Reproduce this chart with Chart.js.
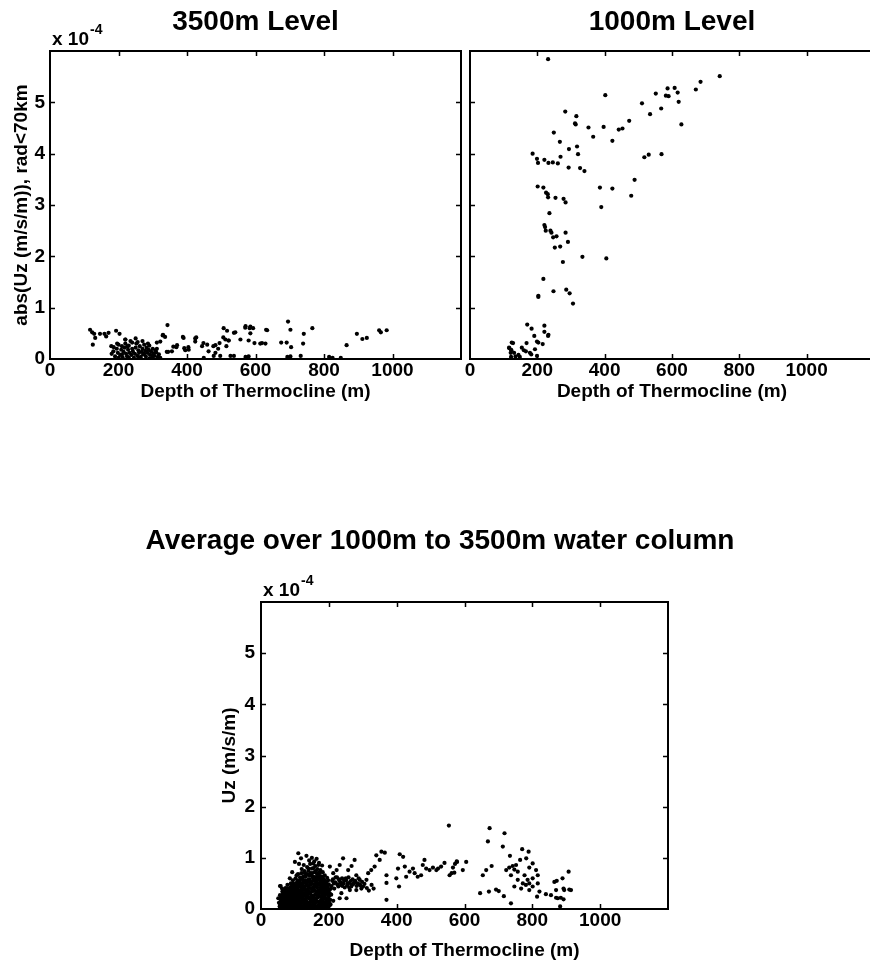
<!DOCTYPE html>
<html>
<head>
<meta charset="utf-8">
<script src="https://cdn.jsdelivr.net/npm/chart.js@4/dist/chart.umd.min.js"></script>
<style>
html,body{margin:0;padding:0;background:#fff;width:870px;height:963px;overflow:hidden;position:relative;}
.box{position:absolute;}
canvas{display:block;}
</style>
</head>
<body>
<div class="box" style="left:0px;top:0px;"><canvas id="cA" width="511" height="403" style="width:511px;height:403px"></canvas></div>
<div class="box" style="left:455px;top:0px;"><canvas id="cB" width="421" height="403" style="width:421px;height:403px"></canvas></div>
<div class="box" style="left:0px;top:520px;"><canvas id="cC" width="870" height="442" style="width:870px;height:442px"></canvas></div>
<script>
// ---------- text ----------
const titleA = '3500m Level';
const titleB = '1000m Level';
const titleC = 'Average over 1000m to 3500m water column';
const xAxisTitle = 'Depth of Thermocline (m)';
const yTitleA = 'abs(Uz (m/s/m)), rad<70km';
const yTitleC = 'Uz (m/s/m)';
const expBase = 'x 10';
const expPower = '-4';

// ---------- axes ----------
const xTickValues = [0, 200, 400, 600, 800, 1000, 1200];
const yTickValues = [0, 1, 2, 3, 4, 5, 6];   // units of 1e-4

// ---------- data: [depth (m), Uz (x1e-4 m/s/m)] ----------
const pts3500 = [
 [117,0.57],[123,0.52],[129,0.49],[125,0.28],[132,0.41],[146,0.49],[159,0.49],[171,0.51],[164,0.44],[193,0.55],
 [203,0.49],[179,0.25],[186,0.23],[220,0.38],[330,0.47],[343,0.66],[388,0.43],[427,0.42],[507,0.60],[517,0.55],
 [537,0.51],[571,0.64],[583,0.60],[593,0.60],[631,0.57],[695,0.73],[702,0.57],[741,0.49],[766,0.60],[896,0.49],
 [912,0.39],[925,0.41],[961,0.56],[983,0.56],[966,0.52],[866,0.27],[739,0.30],[691,0.32],[675,0.32],[704,0.23],
 [619,0.31],[597,0.31],[580,0.36],[556,0.38],[522,0.36],[495,0.31],[483,0.27],[463,0.15],[444,0.25],[515,0.25],
 [395,0.17],[405,0.18],[369,0.23],[356,0.15],[341,0.14],[322,0.34],[312,0.32],[449,0.02],[478,0.06],[497,0.06],
 [527,0.06],[537,0.06],[571,0.04],[580,0.05],[693,0.04],[702,0.05],[732,0.06],[815,0.04],[825,0.02],[849,0.02],
 [329,0.46],[336,0.43],[390,0.41],[424,0.40],[424,0.34],[392,0.21],[404,0.23],[360,0.24],[371,0.27],[345,0.14],
 [448,0.31],[459,0.28],[477,0.25],[483,0.12],[506,0.42],[512,0.38],[491,0.20],[521,0.36],[541,0.52],[570,0.61],
 [585,0.50],[634,0.56],[614,0.30],[629,0.30],[585,0.63],
 [180,0.10],[185,0.15],[190,0.05],[195,0.20],[198,0.12],[200,0.28],[205,0.08],[208,0.18],[210,0.25],[212,0.03],
 [215,0.14],[218,0.22],[220,0.30],[222,0.10],[225,0.05],[228,0.18],[230,0.26],[232,0.12],[235,0.35],[238,0.08],
 [240,0.20],[242,0.15],[245,0.02],[248,0.10],[250,0.22],[252,0.30],[255,0.06],[258,0.17],[260,0.12],[262,0.25],
 [265,0.04],[268,0.14],[270,0.20],[272,0.09],[275,0.28],[278,0.16],[280,0.05],[282,0.22],[285,0.12],[288,0.18],
 [290,0.26],[292,0.08],[295,0.15],[298,0.03],[300,0.20],[302,0.11],[305,0.06],[308,0.17],[310,0.13],[315,0.04],
 [318,0.09],[322,0.02],[200,0.02],[210,0.09],[230,0.03],[260,0.02],[275,0.10],[290,0.01],[240,0.32],[220,0.38],
 [250,0.40],[270,0.35],[196,0.30],[226,0.24],[256,0.33],[286,0.30],[300,0.07],[312,0.20]
];

const pts1000 = [
 [232,5.84],[742,5.51],[685,5.40],[671,5.25],[608,5.28],[587,5.27],[617,5.19],[552,5.17],[582,5.13],[590,5.12],
 [402,5.14],[620,5.01],[511,4.98],[568,4.88],[283,4.82],[535,4.77],[316,4.73],[473,4.64],[312,4.59],[314,4.57],
 [628,4.57],[352,4.51],[397,4.52],[442,4.47],[453,4.49],[249,4.41],[366,4.33],[423,4.25],[267,4.23],[318,4.14],
 [294,4.09],[186,4.00],[321,3.99],[569,3.99],[531,3.98],[518,3.93],[269,3.94],[199,3.90],[202,3.82],[221,3.88],
 [233,3.82],[246,3.83],[261,3.81],[293,3.73],[327,3.72],[340,3.66],[489,3.49],[386,3.34],[423,3.32],[479,3.18],
 [201,3.36],[218,3.34],[226,3.24],[231,3.21],[232,3.15],[254,3.14],[278,3.12],[284,3.05],[390,2.96],[236,2.84],
 [221,2.61],[223,2.57],[225,2.50],[239,2.50],[242,2.46],[284,2.46],[247,2.37],[257,2.39],[291,2.28],[268,2.19],
 [252,2.17],[334,1.99],[405,1.96],[276,1.89],[218,1.56],[203,1.23],[203,1.21],[248,1.32],[286,1.35],[296,1.28],
 [306,1.08],[170,0.67],[183,0.59],[221,0.65],[221,0.53],[233,0.47],[232,0.45],[191,0.45],[168,0.31],[199,0.34],
 [203,0.32],[216,0.29],[124,0.32],[116,0.22],[122,0.18],[121,0.12],[122,0.04],[154,0.22],[160,0.17],[166,0.15],
 [178,0.12],[193,0.19],[182,0.09],[144,0.08],[148,0.04],[199,0.06],[135,0.05],[131,0.12],[128,0.31],[117,0.21],
 [123,0.17]
];

const ptsAvg = [
 [554,1.63],[674,1.58],[718,1.48],[669,1.32],[713,1.22],[770,1.17],[789,1.12],[734,1.04],[680,0.84],[664,0.76],
 [654,0.66],[646,0.31],[672,0.34],[693,0.38],[701,0.35],[716,0.25],[737,0.11],[723,0.76],[732,0.81],[742,0.84],
 [752,0.86],[747,0.77],[757,0.73],[764,0.96],[782,0.99],[801,0.89],[791,0.81],[811,0.76],[816,0.66],[801,0.60],
 [786,0.57],[772,0.50],[757,0.57],[747,0.44],[767,0.40],[781,0.47],[791,0.37],[801,0.44],[816,0.50],[821,0.34],
 [814,0.24],[840,0.29],[855,0.27],[870,0.37],[875,0.21],[884,0.22],[894,0.37],[889,0.60],[907,0.73],[909,0.38],
 [865,0.53],[882,0.05],[791,0.50],[777,0.66],[737,0.66],[872,0.55],[892,0.40],[914,0.37],[870,0.22],[892,0.19],
 [605,0.92],[595,0.76],[578,0.92],[566,0.81],[570,0.71],[556,0.66],[541,0.90],[531,0.83],[522,0.79],[517,0.76],
 [507,0.81],[497,0.76],[487,0.79],[477,0.86],[482,0.96],[472,0.66],[462,0.63],[453,0.70],[448,0.79],[438,0.73],
 [428,0.63],[424,0.83],[419,1.02],[409,1.07],[404,0.79],[399,0.60],[407,0.44],[370,0.66],[370,0.51],[370,0.18],
 [355,1.12],[365,1.10],[340,1.05],[350,0.96],[335,0.83],[325,0.76],[316,0.70],[311,0.57],[301,0.44],[291,0.57],
 [281,0.66],[276,0.96],[267,0.84],[257,0.76],[242,0.99],[232,0.86],[223,0.76],[213,0.70],[203,0.83],[232,0.21],
 [252,0.21],[262,0.37],[281,0.37],[237,0.31],[213,0.16],[203,0.08],[572,0.88],[577,0.93],[562,0.70],
 // dense cluster near the origin
 [55,0.05],[58,0.18],[62,0.10],[64,0.28],[66,0.03],[69,0.15],[71,0.22],[73,0.08],[75,0.33],[77,0.12],
 [79,0.02],[80,0.26],[82,0.18],[84,0.06],[85,0.38],[87,0.14],[89,0.30],[90,0.02],[92,0.21],[93,0.09],
 [95,0.35],[96,0.16],[98,0.27],[99,0.04],[101,0.42],[102,0.12],[104,0.23],[105,0.31],[107,0.07],[108,0.19],
 [110,0.36],[111,0.02],[113,0.28],[114,0.14],[116,0.45],[117,0.09],[119,0.24],[120,0.33],[122,0.05],[123,0.17],
 [125,0.40],[126,0.26],[128,0.11],[129,0.52],[131,0.03],[132,0.20],[134,0.36],[135,0.47],[137,0.13],[138,0.29],
 [140,0.07],[141,0.58],[143,0.22],[144,0.41],[146,0.16],[147,0.33],[149,0.02],[150,0.50],[152,0.25],[153,0.10],
 [155,0.63],[156,0.38],[158,0.18],[159,0.45],[161,0.05],[162,0.29],[164,0.70],[165,0.55],[167,0.14],[168,0.36],
 [170,0.48],[171,0.08],[173,0.24],[174,0.60],[176,0.42],[177,0.17],[179,0.31],[180,0.53],[182,0.04],[183,0.21],
 [185,0.38],[186,0.47],[188,0.12],[189,0.28],[191,0.40],[192,0.06],[194,0.19],[195,0.33],[197,0.44],[198,0.10],
 [200,0.25],[202,0.37],
 [57,0.09],[61,0.24],[63,0.02],[67,0.19],[70,0.06],[72,0.31],[74,0.17],[76,0.04],[78,0.23],[81,0.10],
 [83,0.34],[86,0.21],[88,0.05],[91,0.13],[94,0.25],[97,0.08],[100,0.19],[103,0.34],[106,0.02],[109,0.27],
 [112,0.11],[115,0.21],[118,0.38],[121,0.15],[124,0.03],[127,0.31],[130,0.18],[133,0.08],[136,0.25],[139,0.40],
 [142,0.11],[145,0.30],[148,0.20],[151,0.38],[154,0.05],[157,0.27],[160,0.12],[163,0.43],[166,0.22],[169,0.03],
 [172,0.32],[175,0.11],[178,0.45],[181,0.26],[184,0.14],[187,0.03],[190,0.22],[193,0.30],[196,0.15],[199,0.05],
 [204,0.18],[207,0.28],
 [59,0.13],[65,0.21],[68,0.11],[70,0.36],[73,0.26],[76,0.19],[79,0.40],[82,0.04],[84,0.27],[87,0.43],
 [89,0.11],[92,0.37],[95,0.02],[97,0.22],[100,0.29],[103,0.06],[106,0.44],[108,0.09],[111,0.31],[114,0.24],
 [117,0.50],[119,0.03],[122,0.29],[125,0.12],[127,0.45],[130,0.37],[133,0.26],[136,0.02],[138,0.55],[141,0.34],
 [143,0.04],[146,0.48],[149,0.26],[152,0.14],[155,0.43],[157,0.09],[160,0.35],[162,0.60],[165,0.03],[168,0.25],
 [170,0.66],[173,0.15],[176,0.52],[179,0.07],[182,0.36],[185,0.24],[188,0.55],[191,0.12],[194,0.42],[197,0.29],
 [200,0.48],[205,0.09],
 [53,0.12],[56,0.27],[60,0.06],[63,0.34],[66,0.14],[68,0.25],[71,0.03],[72,0.41],[74,0.11],[77,0.29],
 [78,0.47],[80,0.08],[81,0.37],[83,0.17],[85,0.02],[86,0.30],[88,0.50],[90,0.24],[91,0.40],[93,0.16],
 [94,0.33],[96,0.45],[97,0.03],[99,0.38],[100,0.10],[102,0.26],[104,0.47],[105,0.15],[107,0.39],[108,0.55],
 [110,0.20],[111,0.43],[112,0.06],[114,0.35],[115,0.52],[117,0.29],[118,0.13],[120,0.44],[121,0.60],[123,0.37],
 [124,0.21],[126,0.53],[127,0.07],[129,0.40],[130,0.28],[132,0.63],[133,0.16],[135,0.33],[136,0.51],[138,0.09],
 [139,0.45],[141,0.21],[142,0.66],[144,0.30],[145,0.54],[147,0.06],[148,0.41],[150,0.15],[151,0.70],[153,0.35],
 [154,0.56],[156,0.23],[157,0.47],[159,0.02],[160,0.62],[162,0.18],[163,0.52],[165,0.33],[166,0.42],[168,0.07],
 [169,0.50],[171,0.27],[172,0.62],[174,0.05],[175,0.37],[177,0.56],[178,0.23],[180,0.40],[181,0.12],[183,0.50],
 [184,0.30],[186,0.09],[187,0.42],[189,0.20],[190,0.35],[192,0.46],[193,0.16],[195,0.03],[196,0.40],[198,0.32],
 [199,0.20],[201,0.12],[203,0.30],[206,0.40],
 [90,0.48],[94,0.56],[98,0.44],[102,0.60],[106,0.52],[109,0.68],[113,0.47],[116,0.58],[119,0.70],[122,0.50],
 [125,0.64],[128,0.74],[131,0.56],[134,0.46],[137,0.68],[140,0.79],[143,0.58],[146,0.70],[149,0.50],[152,0.62],
 [155,0.80],[158,0.55],[161,0.74],[164,0.48],[167,0.66],[170,0.58],[173,0.72],[176,0.62],[179,0.50],[182,0.62],
 [185,0.48],[188,0.42],[191,0.52],[194,0.38],
 [100,0.92],[110,1.09],[112,0.88],[118,0.99],[120,0.78],[126,0.86],[130,0.70],[134,1.04],[136,0.82],[140,0.75],
 [145,0.88],[148,0.66],[150,0.79],[154,0.89],[158,0.72],[160,0.84],[163,0.62],[166,0.78],[169,0.86],[172,0.70],
 [175,0.76],[178,0.64],[182,0.72],[185,0.58],[188,0.66],[192,0.52],[195,0.61],[198,0.56],[85,0.60],[92,0.72],
 [105,0.66],[115,0.62],[124,0.57],[58,0.45],[62,0.40],[95,0.50],[142,0.95],[150,1.00],[157,0.93],[164,0.98],
 [171,0.90],[180,0.85],[56,0.45],[51,0.21],
 [208,0.45],[212,0.58],[216,0.40],[219,0.52],[224,0.62],[228,0.44],[231,0.55],[236,0.47],[239,0.60],[243,0.50],
 [247,0.42],[251,0.56],[254,0.46],[258,0.62],[261,0.51],[266,0.44],[270,0.58],[273,0.49],[278,0.55],[285,0.50],
 [288,0.60],[293,0.46],[298,0.53],[305,0.49],[312,0.41],[318,0.36],[326,0.47],[332,0.40],[210,0.55],[215,0.50],
 [220,0.62],[225,0.48],[230,0.58],[235,0.52],[240,0.45],[245,0.55],[250,0.60],[255,0.50],[260,0.42],[265,0.55],
 [268,0.47],[275,0.52],[282,0.45],[290,0.48],[296,0.40]
];

// ---------- styling ----------
const FAMILY = "'Liberation Sans', Arial, Helvetica, sans-serif";
const labelFont = {family: FAMILY, size: 19, weight: 'bold'};
const titleFont = {family: FAMILY, size: 28, weight: 'bold'};

const framePlugin = {
  id: 'frame',
  afterDraw(chart, args, opts) {
    const {ctx, chartArea: a} = chart;
    const xs = chart.scales.x, ys = chart.scales.y;
    ctx.save();
    ctx.strokeStyle = '#000';
    ctx.lineWidth = 1.5;
    const L = 5;
    ctx.beginPath();
    xTickValues.forEach(v => {
      if (v <= xs.min || v >= xs.max) return;
      const p = Math.round(xs.getPixelForValue(v)) + 0.5;
      ctx.moveTo(p, a.bottom); ctx.lineTo(p, a.bottom - L);
      ctx.moveTo(p, a.top); ctx.lineTo(p, a.top + L);
    });
    yTickValues.forEach(v => {
      if (v <= ys.min || v >= ys.max) return;
      const p = Math.round(ys.getPixelForValue(v)) + 0.5;
      ctx.moveTo(a.left, p); ctx.lineTo(a.left + L, p);
      if (!opts.noRightTicks) { ctx.moveTo(a.right, p); ctx.lineTo(a.right - L, p); }
    });
    ctx.stroke();
    ctx.lineWidth = 2;
    ctx.strokeRect(a.left, a.top, a.right - a.left, a.bottom - a.top);
    if (opts.exponent) {
      ctx.fillStyle = '#000';
      ctx.textBaseline = 'alphabetic';
      ctx.textAlign = 'left';
      ctx.font = 'bold 19px ' + FAMILY;
      const x0 = a.left + 2;
      ctx.fillText(expBase, x0, a.top - 6);
      const w = ctx.measureText(expBase).width;
      ctx.font = 'bold 14px ' + FAMILY;
      ctx.fillText(expPower, x0 + w + 1, a.top - 17);
    }
    ctx.restore();
  }
};

function makeChart(id, pts, cfg) {
  const scales = {
    x: {
      type: 'linear', min: 0, max: 1200,
      ticks: {stepSize: 200, color: '#000', font: labelFont, padding: 0, maxRotation: 0, autoSkip: false,
              callback: v => (v === 1200 ? '' : String(v))},
      grid: {display: false, drawTicks: false},
      border: {display: false},
      title: {display: true, text: xAxisTitle, color: '#000', font: labelFont, padding: {top: 0, bottom: 0}},
      afterFit: s => { s.height = cfg.xHeight; }
    },
    y: {
      type: 'linear', min: 0, max: 6,
      ticks: {
        stepSize: 1, color: '#000', font: labelFont, padding: cfg.yTickPad || 5,
        display: cfg.yLabels,
        callback: v => (v === 6 ? '' : String(v))
      },
      grid: {display: false, drawTicks: false},
      border: {display: false},
      title: {display: !!cfg.yTitle, text: cfg.yTitle || '', color: '#000', font: labelFont,
              padding: {top: cfg.yTitlePad || 0, bottom: 0}},
      afterFit: s => { s.width = cfg.yWidth; }
    }
  };
  if (cfg.rightSpace) {
    scales.yRight = {
      type: 'linear', position: 'right', min: 0, max: 6,
      ticks: {display: false}, grid: {display: false, drawTicks: false},
      border: {display: false}, title: {display: false},
      afterFit: s => { s.width = cfg.rightSpace; }
    };
  }
  return new Chart(document.getElementById(id), {
    type: 'scatter',
    data: {
      datasets: [{
        data: pts.map(p => ({x: p[0], y: p[1]})),
        backgroundColor: '#000', borderColor: '#000',
        pointRadius: 2.1, pointHoverRadius: 2.1, borderWidth: 0
      }]
    },
    options: {
      responsive: false, animation: false, events: [],
      layout: {padding: cfg.padding},
      plugins: {
        legend: {display: false},
        tooltip: {enabled: false},
        title: {display: true, text: cfg.title, color: '#000', font: titleFont,
                fullSize: cfg.fullSize, padding: cfg.titlePad},
        frame: {exponent: cfg.exponent, noRightTicks: !!cfg.noRightTicks}
      },
      scales: scales
    },
    plugins: [framePlugin]
  });
}

makeChart('cA', pts3500, {
  title: titleA, fullSize: false, titlePad: {top: 5, bottom: 12.4},
  padding: {left: 0, right: 50, top: 0, bottom: 0},
  yWidth: 50, yLabels: true, yTitle: yTitleA, yTitlePad: 10, yTickPad: 5,
  xHeight: 44, exponent: true
});
makeChart('cB', pts1000, {
  title: titleB, fullSize: false, titlePad: {top: 5, bottom: 12.4},
  padding: {left: 15, right: 0, top: 0, bottom: 0},
  yWidth: 0, yLabels: false, yTitle: '',
  xHeight: 44, exponent: false, noRightTicks: true
});
makeChart('cC', ptsAvg, {
  title: titleC, fullSize: true, titlePad: {top: 4, bottom: 44.4},
  padding: {left: 10, right: 0, top: 0, bottom: 0},
  yWidth: 251, yLabels: true, yTitle: yTitleC, yTitlePad: 208.6, yTickPad: 6,
  rightSpace: 202,
  xHeight: 53, exponent: true
});
</script>
</body>
</html>
